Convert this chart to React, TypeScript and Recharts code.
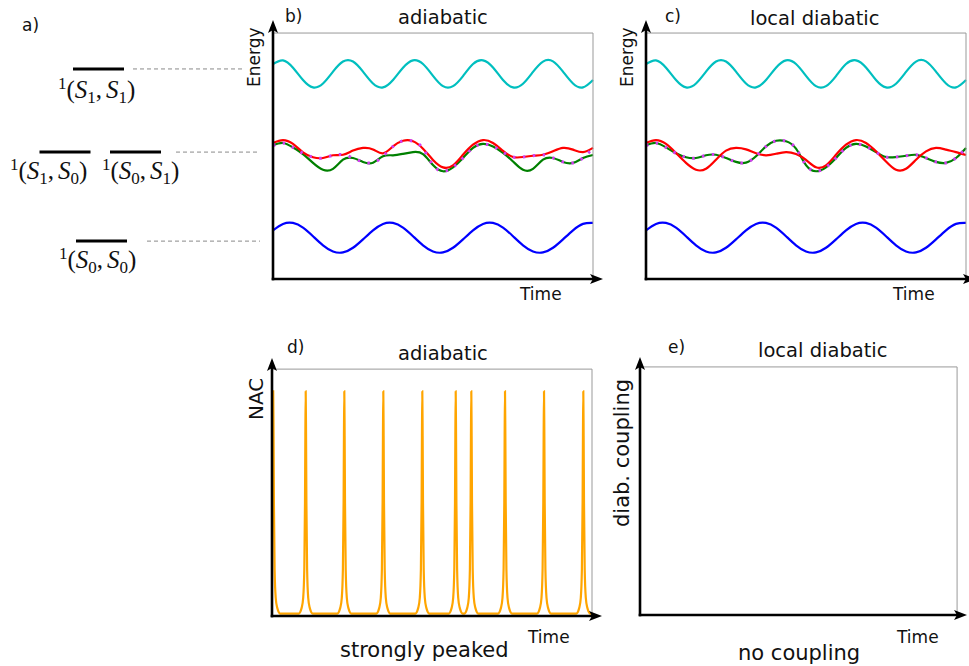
import React from 'react';
import { LineChart, Line, XAxis, YAxis, ReferenceLine, ReferenceDot, ScatterChart, Scatter } from 'recharts';

// time samples, arbitrary units (32 units across each panel)
const time = [0, 1, 2, 3, 4, 5, 6, 7, 8, 9, 10, 11, 12, 13, 14, 15, 16, 17, 18, 19, 20, 21, 22, 23, 24, 25, 26, 27, 28, 29, 30, 31, 32];

// energies (0 = time axis, 100 = top of box)
const cyanState = [87.4, 88.9, 85.9, 80.9, 77.9, 79.5, 84.3, 88.4, 88.4, 84.3, 79.5, 77.9, 80.9, 85.9, 88.9, 87.4, 82.6, 78.4, 78.4, 82.5, 87.4, 88.9, 86.0, 80.9, 77.9, 79.4, 84.2, 88.4, 88.5, 84.3, 79.5, 77.9, 80.9];
const blueState = [19.8, 22.4, 22.8, 20.9, 17.4, 13.7, 11.2, 10.8, 12.7, 16.1, 19.8, 22.4, 22.8, 20.9, 17.4, 13.7, 11.2, 10.8, 12.7, 16.1, 19.8, 22.4, 22.8, 20.9, 17.4, 13.7, 11.2, 10.8, 12.7, 16.1, 19.8, 22.4, 22.8];
// local diabatic states (c): green (followed by the trajectory) and red
const diabGreen = [54.3, 55.3, 53.5, 51.1, 49.5, 49.2, 50.3, 50.5, 49.2, 47.6, 47.3, 49.9, 53.9, 56.2, 56.0, 53.0, 46.3, 43.8, 45.4, 49.2, 53.3, 54.9, 53.9, 51.6, 49.6, 49.6, 50.1, 50.5, 49.2, 47.6, 47.2, 49.2, 53.3];
const diabRed = [55.3, 56.5, 54.9, 51.2, 47.2, 44.4, 44.8, 48.5, 52.2, 53.3, 52.7, 51.1, 50.3, 50.9, 51.6, 50.8, 48.4, 45.4, 46.2, 50.5, 54.6, 56.5, 55.3, 51.9, 47.8, 44.4, 44.8, 48.5, 51.9, 53.3, 52.6, 51.6, 50.4];
// adiabatic states (b): upper red, lower green
const adiaRed = [55.3, 56.5, 54.9, 51.5, 49.5, 49.2, 50.3, 50.5, 52.2, 53.3, 52.7, 51.1, 53.9, 56.2, 56.0, 53.0, 48.4, 45.4, 46.2, 50.5, 54.6, 56.5, 55.3, 52.1, 49.6, 49.6, 50.1, 50.5, 51.9, 53.3, 52.6, 51.6, 53.3];
const adiaGreen = [54.3, 55.3, 53.5, 50.8, 47.2, 44.4, 44.8, 48.5, 49.2, 47.6, 47.3, 49.9, 50.3, 50.9, 51.6, 50.8, 46.3, 43.8, 45.4, 49.2, 53.3, 54.9, 53.9, 51.3, 47.8, 44.4, 44.8, 48.5, 49.2, 47.6, 47.2, 49.2, 50.4];

// NAC spikes (d)
const nacPeakTimes = [0.12, 3.37, 7.23, 11.13, 15.03, 18.37, 19.93, 23.3, 27.2, 31.13];
const nacPeakOffsets = [-0.7, -0.4, -0.25, -0.14, -0.07, -0.035, 0, 0.035, 0.07, 0.14, 0.25, 0.4, 0.7];
const nacPeakValues = [1.0, 3.4, 7.4, 19, 46, 73, 91, 73, 46, 19, 7.4, 3.4, 1.0];
const nacEndTime = 32;

// diabatic coupling (e)
const couplingTimes = [0, 32];
const couplingValues = [0, 0];

// level diagram (a)
const levelLeftIdx = ['1', '1', '0', '0'];
const levelRightIdx = ['1', '0', '1', '0'];
const levelEnergies = [85.4, 51.6, 51.6, 15.4];

// layout of the level diagram (pixels)
const levelCenterX = [98.5, 65, 135.5, 101.5];
const labelShift = [-40.5, -55, -33.5, -42.5];
const labelDrop = [29, 26.5, 26.5, 26.5];
const dashFrom = [133, -1, 176, 147];
const dashTo = [245, -1, 260, 260];

const energyRows = time.map((t, i) => ({
  t,
  cyan: cyanState[i],
  blue: blueState[i],
  aRed: adiaRed[i],
  aGreen: adiaGreen[i],
  dGreen: diabGreen[i],
  dRed: diabRed[i],
}));

const nacRows: { t: number; nac: number }[] = [];
nacPeakTimes.forEach((t0) => {
  nacPeakOffsets.forEach((o, k) => {
    if (t0 + o >= 0) nacRows.push({ t: +(t0 + o).toFixed(3), nac: nacPeakValues[k] });
  });
});
nacRows.push({ t: nacEndTime, nac: nacPeakValues[0] });

const couplingRows = couplingTimes.map((t, i) => ({ t, c: couplingValues[i] }));

const levelRows = levelEnergies.map((e, i) => ({ x: levelCenterX[i], y: e, lo: levelLeftIdx[i], ro: levelRightIdx[i], k: i }));

const SANS = '"DejaVu Sans", Verdana, sans-serif';
const MATH = '"Liberation Serif", "Times New Roman", serif';
const INK = '#111';

const upArrow = (p: any) => (
  <path d={`M${p.cx},${p.cy} L${p.cx - 5},${p.cy + 13} L${p.cx},${p.cy + 10} L${p.cx + 5},${p.cy + 13} Z`} fill="#000" />
);
const rightArrow = (p: any) => (
  <path d={`M${p.cx},${p.cy} L${p.cx - 13},${p.cy - 5} L${p.cx - 10},${p.cy} L${p.cx - 13},${p.cy + 5} Z`} fill="#000" />
);

// black axes with arrow tips and the thin grey box
const frame = (xTip: number, yTip: number) => [
  <ReferenceLine key="top" segment={[{ x: 0, y: 100 }, { x: 32, y: 100 }]} stroke="#999" strokeWidth={1} />,
  <ReferenceLine key="right" segment={[{ x: 32, y: 0 }, { x: 32, y: 100 }]} stroke="#999" strokeWidth={1} />,
  <ReferenceLine key="yax" segment={[{ x: 0, y: 0 }, { x: 0, y: yTip - 3 }]} stroke="#000" strokeWidth={2.6} strokeLinecap="square" />,
  <ReferenceLine key="xax" segment={[{ x: 0, y: 0 }, { x: xTip - 1, y: 0 }]} stroke="#000" strokeWidth={2.6} strokeLinecap="square" />,
  <ReferenceDot key="ya" x={0} y={yTip} shape={upArrow} />,
  <ReferenceDot key="xa" x={xTip} y={0} shape={rightArrow} />,
];

const LevelMark = (props: any) => {
  const { cx, cy, payload } = props;
  const k = payload.k;
  return (
    <g>
      <line x1={cx - 25.5} x2={cx + 25.5} y1={cy} y2={cy} stroke="#000" strokeWidth={3} />
      <text x={cx + labelShift[k]} y={cy + labelDrop[k]} fontFamily={MATH} fontSize={25} fill={INK}>
        <tspan fontSize={17} dy={-9}>1</tspan>
        <tspan dy={9}>(</tspan>
        <tspan fontStyle="italic">S</tspan>
        <tspan fontSize={17} dy={5}>{payload.lo}</tspan>
        <tspan dy={-5}>,</tspan>
        <tspan fontStyle="italic" dx={4}>S</tspan>
        <tspan fontSize={17} dy={5}>{payload.ro}</tspan>
        <tspan dy={-5}>)</tspan>
      </text>
    </g>
  );
};

const lineProps = { type: 'natural' as const, dot: false, isAnimationActive: false, strokeWidth: 2.2 };

const EnergyPanel = ({ left, red, green }: { left: number; red: string; green: string }) => (
  <div style={{ position: 'absolute', left, top: 15 }}>
    <LineChart width={340} height={269} data={energyRows} margin={{ top: 5, right: 5, bottom: 5, left: 5 }}>
      <XAxis type="number" dataKey="t" domain={[0, 33]} hide />
      <YAxis type="number" domain={[0, 105.3]} hide />
      <Line dataKey="cyan" stroke="#00bfbf" {...lineProps} />
      <Line dataKey="blue" stroke="#0000ff" {...lineProps} />
      <Line dataKey={green} stroke="#008000" {...lineProps} />
      <Line dataKey={red} stroke="#ff0000" {...lineProps} />
      <Line dataKey="dGreen" stroke="#d23ef0" {...lineProps} strokeWidth={3} strokeDasharray="2.5 7.5" />
      {frame(33, 105.3)}
    </LineChart>
  </div>
);

const App: React.FC = () => {
  return (
    <div style={{ position: 'absolute', left: 0, top: 0, width: 969, height: 666, overflow: 'hidden', background: '#fff' }}>
      {/* a) level diagram */}
      <div style={{ position: 'absolute', left: 0, top: 15 }}>
        <ScatterChart width={278} height={269} margin={{ top: 5, right: 5, bottom: 5, left: 0 }}>
          <XAxis type="number" dataKey="x" domain={[0, 273]} hide />
          <YAxis type="number" dataKey="y" domain={[0, 105.3]} hide />
          {levelEnergies.map((e, i) =>
            dashFrom[i] < 0 ? null : (
              <ReferenceLine key={i} segment={[{ x: dashFrom[i], y: e }, { x: dashTo[i], y: e }]} stroke="#8a8a8a" strokeWidth={1} strokeDasharray="4 3" />
            )
          )}
          <Scatter data={levelRows} shape={LevelMark} isAnimationActive={false} />
        </ScatterChart>
      </div>

      {/* b) adiabatic energies */}
      <EnergyPanel left={268} red="aRed" green="aGreen" />
      {/* c) local diabatic energies */}
      <EnergyPanel left={641} red="dRed" green="dGreen" />

      {/* d) NAC */}
      <div style={{ position: 'absolute', left: 267, top: 353 }}>
        <LineChart width={340} height={268} data={nacRows} margin={{ top: 5, right: 5, bottom: 5, left: 5 }}>
          <XAxis type="number" dataKey="t" domain={[0, 33]} hide />
          <YAxis type="number" domain={[0, 104.5]} hide />
          <Line dataKey="nac" stroke="#ffa500" type="monotone" dot={false} isAnimationActive={false} strokeWidth={2.2} />
          {frame(33, 104.5)}
        </LineChart>
      </div>

      {/* e) diabatic coupling */}
      <div style={{ position: 'absolute', left: 635, top: 352 }}>
        <LineChart width={337} height={268} data={couplingRows} margin={{ top: 5, right: 5, bottom: 5, left: 5 }}>
          <XAxis type="number" dataKey="t" domain={[0, 33]} hide />
          <YAxis type="number" domain={[0, 104]} hide />
          <Line dataKey="c" stroke="#000" type="linear" dot={false} isAnimationActive={false} strokeWidth={2} />
          {frame(33, 104)}
        </LineChart>
      </div>

      {/* panel texts */}
      <svg width={969} height={666} style={{ position: 'absolute', left: 0, top: 0, pointerEvents: 'none' }} fontFamily={SANS} fill={INK}>
        <text x={22} y={31} fontSize={17}>a)</text>
        <text x={285} y={22} fontSize={17}>b)</text>
        <text x={398} y={24} fontSize={19.5}>adiabatic</text>
        <text x={665} y={22} fontSize={17}>c)</text>
        <text x={750} y={25} fontSize={19.5}>local diabatic</text>
        <text x={260} y={87} fontSize={17} transform="rotate(-90 260 87)">Energy</text>
        <text x={633} y={87} fontSize={17} transform="rotate(-90 633 87)">Energy</text>
        <text x={520} y={300} fontSize={17}>Time</text>
        <text x={893} y={300} fontSize={17}>Time</text>

        <text x={287} y={353} fontSize={17}>d)</text>
        <text x={398} y={360} fontSize={19.5}>adiabatic</text>
        <text x={263} y={420} fontSize={20} transform="rotate(-90 263 420)">NAC</text>
        <text x={528} y={643} fontSize={17}>Time</text>
        <text x={340} y={657} fontSize={21}>strongly peaked</text>

        <text x={668} y={353} fontSize={17}>e)</text>
        <text x={758} y={357} fontSize={19.5}>local diabatic</text>
        <text x={629} y={527} fontSize={21} transform="rotate(-90 629 527)">diab. coupling</text>
        <text x={897} y={643} fontSize={17}>Time</text>
        <text x={738} y={660} fontSize={21}>no coupling</text>
      </svg>
    </div>
  );
};

export default App;
